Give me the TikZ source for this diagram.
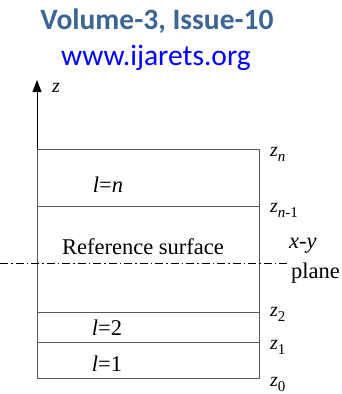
\documentclass[tikz,border=0pt]{standalone}
\usepackage{fontspec}
\setmainfont{Liberation Serif}
\newfontfamily\headfont{Carlito}
\usetikzlibrary{arrows.meta,positioning}
\definecolor{issueblue}{HTML}{3C6595}
\definecolor{linkblue}{HTML}{0000FF}
\newcommand{\zsub}[1]{\raisebox{-0.25em}{\fontsize{15}{16}\selectfont #1}}

\begin{document}
\begin{tikzpicture}[
  x=1pt, y=-1pt,
  layer/.style={draw=black!65, line width=1pt},
  lbl/.style={font=\fontsize{22.5}{24}\selectfont, inner sep=0pt},
  zlbl/.style={font=\fontsize{20}{22}\selectfont, inner sep=0pt, anchor=west}
]
  \useasboundingbox (0,0) rectangle (341,394);

  % Header
  \node[font=\headfont\bfseries\fontsize{29.5}{31}\selectfont, text=issueblue] (vol) at (157,21) {Volume-3, Issue-10};
  \node[font=\headfont\fontsize{29.5}{31}\selectfont, text=linkblue] (url) at (156,58) {www.ijarets.org};

  % z axis
  \coordinate (zbase) at (37,149);
  \coordinate (ztip) at (37,80);
  \draw[line width=0.8pt, -{Triangle[length=12pt,width=9pt]}] (zbase) -- (ztip);
  \node[zlbl] (zaxis) at (52,88) {\itshape z};

  % Layers
  \draw[layer] (37,149) rectangle (259,378);
  \draw[layer] (37,206) -- (259,206);
  \draw[layer] (37,312) -- (259,312);
  \draw[layer] (37,342) -- (259,342);

  % x-y plane
  \coordinate (pleft) at (0,263);
  \coordinate (pright) at (290,263);
  \draw[line width=0.8pt, dash pattern=on 8pt off 3pt on 1.5pt off 3pt] (pleft) -- (pright);

  % Layer labels
  \node[lbl] (ln) at (108,185) {\itshape l\upshape =\itshape n};
  \node[lbl] (ref) at (143,247) {Reference surface};
  \node[lbl] (l2) at (107,328) {\itshape l\upshape =2};
  \node[lbl] (l1) at (107,364) {\itshape l\upshape =1};

  % Interface labels
  \node[zlbl] (zn) at (270,154) {\itshape z\zsub{n}};
  \node[zlbl] (znm) at (270,210) {\itshape z\zsub{n\upshape -1}};
  \node[lbl, anchor=west] (xy) at (289,246) {\itshape x-y};
  \node[lbl, anchor=west] (plane) at (291,273) {plane};
  \node[zlbl] (z2) at (270,314) {\itshape z\upshape\zsub{2}};
  \node[zlbl] (z1) at (270,347) {\itshape z\upshape\zsub{1}};
  \node[zlbl] (z0) at (270,384) {\itshape z\upshape\zsub{0}};
\end{tikzpicture}
\end{document}
